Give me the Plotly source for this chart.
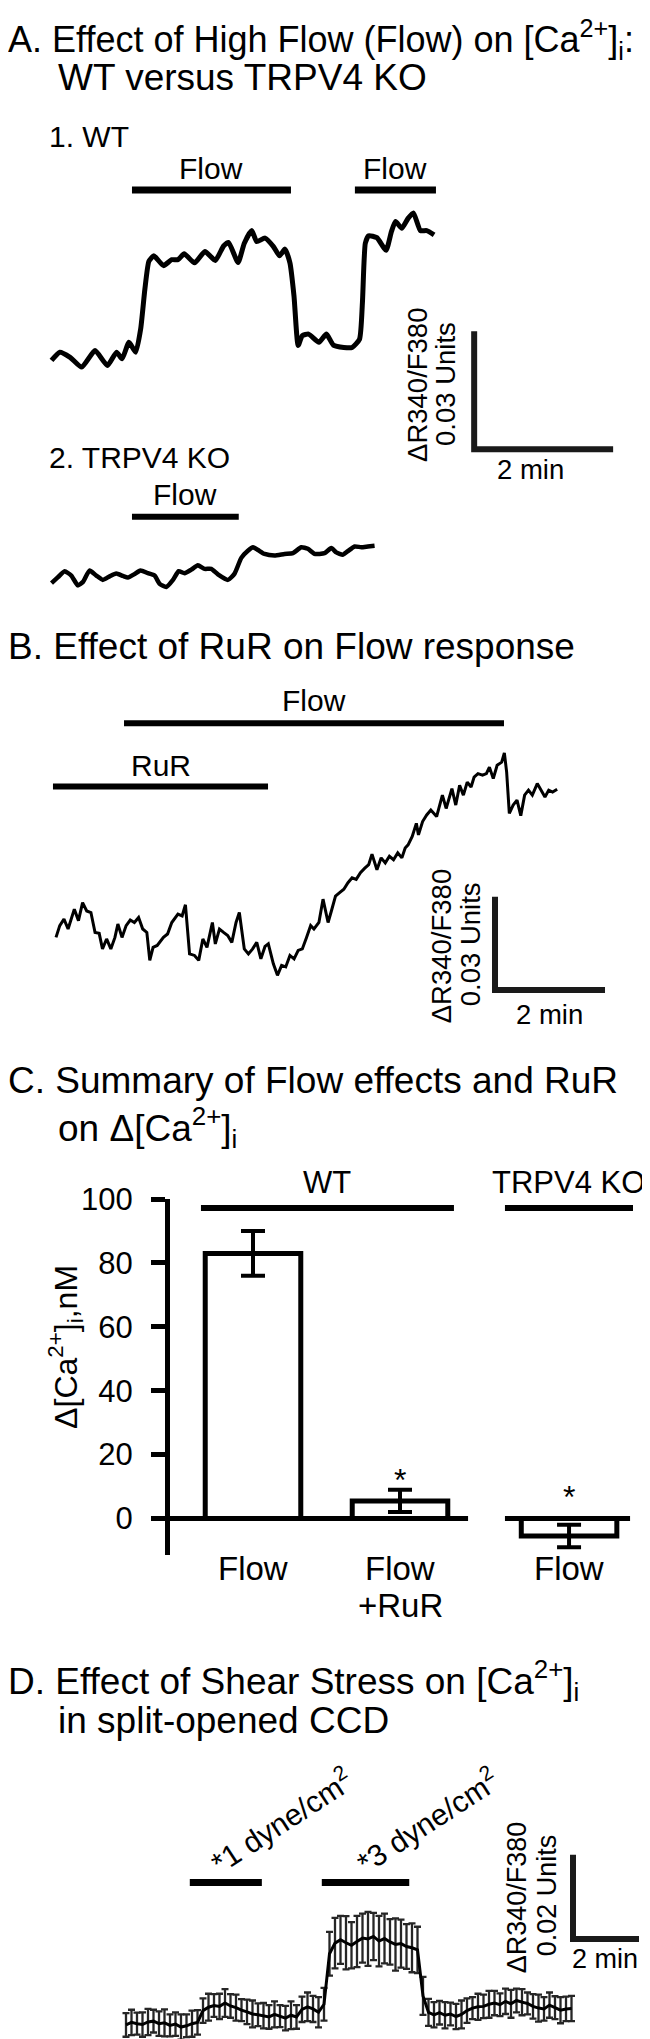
import plotly.graph_objects as go

W, H = 650, 2039
FONT = "Liberation Sans, Arial, Helvetica, sans-serif"
INK = "black"

# ---------------- data ----------------
# A. High flow, WT vs TRPV4 KO.  time in s, dR340/F380 in 1e-3 ratio units
A_WT_T = [0, 7.2, 16.1, 26.1, 37.6, 48.3, 56.2, 60.9, 66.9, 72.7, 77.0, 80.6, 84.1, 88.4,
          96.7, 103.8, 109.2, 114.6, 123.5, 132.5, 141.4, 148.6, 152.9, 161.1, 166.5, 172.9,
          177.2, 184.4, 191.5, 196.9, 201.6, 205.9, 209.4, 213.0, 216.6, 222.0, 230.9, 237.4,
          243.4, 252.4, 259.6, 266.0, 268.5, 271.0, 273.9, 281.0, 288.9, 293.6, 297.1, 302.5,
          307.9, 312.5, 318.6, 324.0, 330.4]
A_WT_DR = [1.7, 3.8, 2.5, 0.0, 4.2, 0.4, 3.8, 2.1, 6.3, 3.8, 9.7, 19.7, 26.9, 28.3,
           25.8, 27.3, 27.3, 28.8, 26.5, 29.4, 27.1, 30.8, 31.7, 26.6, 31.5, 34.7,
           31.9, 32.8, 30.7, 28.3, 30.0, 26.5, 18.1, 5.5, 8.0, 8.4, 6.3, 8.4,
           5.6, 5.0, 5.0, 7.1, 16.4, 31.5, 33.4, 32.9, 29.7, 34.5, 37.0, 35.3,
           37.8, 39.2, 34.7, 34.7, 33.6]
A_KO_T = [0, 5.6, 11.3, 17.1, 22.8, 27.2, 32.9, 38.7, 44.4, 50.2, 55.9, 61.7, 66.0, 71.2,
          76.9, 83.3, 89.0, 93.4, 99.1, 104.9, 109.8, 114.9, 120.7, 126.4, 132.2, 138.0,
          143.7, 152.4, 158.1, 163.9, 169.6, 174.0, 178.3, 184.0, 192.6, 201.3, 208.5,
          215.7, 221.4, 227.2, 235.8, 241.6, 245.9, 251.6, 255.9, 261.7, 267.5, 273.2, 279.0]
A_KO_DR = [1.0, 2.5, 4.0, 2.9, 0.4, 1.3, 4.2, 2.9, 1.8, 2.7, 3.4, 2.8, 2.4, 3.2,
           4.2, 3.5, 2.9, 0.8, 0.0, 1.8, 4.0, 3.5, 4.4, 5.5, 4.6, 4.6,
           3.2, 1.8, 3.4, 7.4, 9.2, 10.1, 9.4, 8.4, 8.0, 8.4, 8.6,
           10.1, 9.7, 8.4, 8.6, 9.9, 8.8, 8.2, 9.1, 10.3, 10.1, 10.3, 10.5]
A_WT_FLOW = [[69.5, 206.8], [262.0, 332.0]]
A_KO_FLOW = [[69.5, 161.7]]

# B. RuR on flow response
B_T = [0, 4.1, 8.7, 13.2, 20.0, 24.5, 29.0, 33.5, 38.1, 42.6,
       47.1, 50.7, 55.2, 59.8, 64.3, 67.5, 72.0, 76.5, 81.0, 85.5,
       90.1, 94.6, 99.1, 102.3, 105.9, 110.4, 117.2, 121.7, 126.3, 133.0,
       137.6, 141.2, 145.7, 151.1, 155.7, 160.2, 164.7, 170.6, 173.8, 178.3,
       182.8, 187.3, 191.8, 196.4, 200.0, 205.4, 209.9, 214.5, 219.0, 223.5,
       228.0, 231.6, 237.1, 241.6, 246.1, 250.6, 255.2, 259.7, 264.2, 268.7,
       273.3, 277.8, 281.4, 286.8, 291.3, 296.8, 300.4, 304.9, 309.4, 314.0,
       318.5, 323.0, 327.5, 332.1, 336.6, 341.1, 344.7, 350.1, 354.7, 359.2,
       363.7, 368.2, 372.8, 377.3, 380.9, 384.1, 388.6, 393.1, 395.4, 399.9,
       404.4, 408.9, 415.2, 421.5, 425.6, 431.9, 436.1, 440.3, 444.4, 448.6,
       452.8, 456.1, 460.3, 465.3, 469.5, 472.8, 477.0, 481.2, 486.2, 489.1,
       491.6, 494.5, 498.7, 502.9, 507.0, 511.2, 515.4, 519.6, 525.0, 529.2,
       533.4, 537.5, 541.7, 546.7]
B_DR = [12.2, 16.0, 18.1, 14.9, 21.3, 17.6, 23.4, 20.7, 20.2, 13.8,
        13.5, 8.5, 11.7, 8.5, 12.2, 16.5, 12.2, 16.0, 17.8, 17.0,
        18.6, 14.9, 13.8, 4.8, 9.0, 9.6, 12.2, 13.3, 17.0, 19.7,
        19.1, 22.7, 6.9, 6.4, 4.8, 11.7, 9.0, 17.0, 10.1, 14.9,
        13.8, 12.8, 10.6, 17.0, 20.2, 8.5, 6.9, 8.5, 10.6, 5.3,
        9.3, 10.1, 3.7, 0.0, 3.2, 2.7, 6.4, 5.3, 8.0, 8.5,
        12.2, 16.0, 14.9, 17.0, 24.5, 17.0, 20.7, 25.5, 26.6, 27.7,
        29.8, 31.4, 30.9, 33.0, 34.4, 35.6, 39.0, 34.0, 37.8, 36.2,
        38.3, 37.2, 39.4, 37.8, 41.0, 42.0, 44.7, 48.9, 45.2, 49.5,
        51.6, 53.2, 51.1, 58.0, 53.7, 60.1, 54.8, 61.2, 58.0, 62.2,
        60.6, 63.8, 64.9, 64.4, 64.9, 67.0, 63.3, 67.6, 68.6, 71.6,
        65.4, 52.1, 54.8, 56.4, 51.4, 58.0, 59.6, 58.0, 61.7, 59.6,
        57.4, 59.6, 59.0, 59.9]
B_FLOW = [74.2, 488.7]
B_RUR = [-3.3, 231.3]

# C. summary, d[Ca2+]i in nM
C_LABELS = ["Flow", "Flow<br>+RuR", "Flow"]
C_MEAN = [83, 5.5, -5.5]
C_SEM = [7, 3.5, 3.5]
C_STARS = ["", "*", "*"]
C_GROUPS = ["WT", "TRPV4 KO"]
C_TICKS = [0, 20, 40, 60, 80, 100]

# D. shear stress, split-opened CCD (mean +/- sem)
D_T = [0, 10, 20, 30, 40, 50, 60, 70, 80, 90, 100, 110, 120, 130, 140, 150, 160, 170,
       180, 190, 200, 210, 220, 230, 240, 250, 260, 270, 280, 290, 300, 310, 320, 330,
       340, 350, 360, 370, 380, 390, 400, 410, 420, 430, 440, 450, 460, 470, 480, 490,
       500, 510, 520, 530, 540, 550, 560, 570, 580, 590, 600, 610, 620, 630, 640, 650,
       660, 670, 680, 690, 700, 710, 720, 730, 740, 750, 760, 770, 780, 790, 800, 810]
D_DR = [0.6, 1.2, 0.9, 0.7, 1.3, 1.5, 0.9, 1.1, 0.5, 0.8,
        0.1, 0.4, 0.9, 1.2, 4.0, 4.8, 5.2, 5.0, 5.8, 5.1,
        4.7, 4.1, 3.7, 3.2, 3.0, 2.8, 2.5, 3.1, 2.7, 2.2,
        2.9, 2.5, 4.3, 4.9, 4.4, 3.6, 5.5, 17.5, 20.0, 20.8,
        20.1, 19.5, 20.4, 21.2, 21.0, 21.6, 20.5, 21.1, 20.3, 19.7,
        19.9, 19.2, 18.9, 18.4, 7.5, 3.6, 3.0, 3.5, 2.9, 3.2,
        2.6, 3.1, 4.0, 4.6, 4.9, 5.0, 5.5, 5.8, 5.4, 6.2,
        5.6, 6.4, 6.0, 5.7, 5.0, 4.6, 4.4, 5.3, 4.7, 4.1,
        4.4, 4.5]
D_SEM = [2.8, 3.0, 2.6, 2.9, 3.1, 2.7, 2.9, 3.2, 2.6, 2.8, 3.0, 2.7, 3.1, 2.9,
         2.9, 3.2, 2.7, 3.0, 3.3, 2.8, 3.1, 2.6, 2.9, 3.2, 2.7, 3.0, 2.8, 3.1, 2.6,
         2.9, 3.3, 2.8, 3.0, 3.4, 3.1, 3.6, 3.9,
         5.2, 6.0, 5.7, 6.3, 5.5, 6.1, 5.8, 6.4, 5.6, 6.0, 5.9, 5.4, 6.2, 5.7, 5.3, 5.8, 5.5,
         4.5, 3.2, 3.0, 2.8, 3.1, 2.7, 3.0, 3.3, 2.9, 2.6, 3.1, 2.8, 3.2, 2.9, 2.7, 3.0,
         3.3, 2.8, 3.1, 2.6, 2.9, 3.2, 2.8, 3.0, 2.7, 3.1, 2.9, 3.0]
D_SHEAR = [[116, 247], [356, 515]]
D_SHEAR_LABELS = ["*1 dyne/cm<sup>2</sup>", "*3 dyne/cm<sup>2</sup>"]

SCALE_TIME_S = 120
SCALE_A_DR = 30   # 0.03 units
SCALE_B_DR = 30
SCALE_D_DR = 20   # 0.02 units

# ---------------- page geometry (px) ----------------
A_X0, A_XS = 43.5, 1.158                 # px origin, px per s
A1_Y0, A2_Y0, A_YS = 345.0, 566.7, 3.967  # px origin, px per 1e-3 unit
B_X0, B_XS = 48.0, 0.9167
B_Y0, B_YS = 958.3, 3.133
C_X = [0, 1, 2.15]
C_X0, C_XS = 245.0, 147.0
C_Y0, C_YS = 1506.0, 3.22
D_X0, D_XS = 118.0, 0.55
D_Y0, D_YS = 2019.3, 4.25


def xr(x0, xs, left=0, right=W):
    return [(left - x0) / xs, (right - x0) / xs]


def yr(y0, ys, top, bottom):
    return [(y0 - bottom) / ys, (y0 - top) / ys]


def yd(top, bottom):
    return [1 - bottom / H, 1 - top / H]


def py(y):
    return 1 - y / H


def htext(text, x, base, size, xanchor="center", xref="paper"):
    # x in px (or data units if xref is an axis), base = text baseline in px
    return dict(text=text, x=x / W if xref == "paper" else x, y=py(base - 0.35 * size),
                xref=xref, yref="paper", showarrow=False, xanchor=xanchor, yanchor="middle",
                font=dict(size=size, family=FONT, color=INK))


def rtext(text, xc, yc, size, angle=-90):
    return dict(text=text, x=xc / W, y=py(yc), xref="paper", yref="paper", showarrow=False,
                xanchor="center", yanchor="middle", textangle=angle,
                font=dict(size=size, family=FONT, color=INK))


def hbar(x0, x1, ypx, xref, width):
    return dict(type="line", xref=xref, yref="paper", x0=x0, x1=x1, y0=py(ypx), y1=py(ypx),
                line=dict(color=INK, width=width))


def scale_bar(t0, v0, dv, xa, ya):
    return go.Scatter(x=[t0, t0, t0 + SCALE_TIME_S], y=[v0 + dv, v0, v0], mode="lines",
                      line=dict(color="#1a1a1a", width=6), xaxis=xa, yaxis=ya,
                      hoverinfo="skip")


fig = go.Figure()

# A traces
fig.add_trace(go.Scatter(x=A_WT_T, y=A_WT_DR, mode="lines", xaxis="x", yaxis="y",
                         line=dict(color=INK, width=5, shape="spline", smoothing=0.5)))
fig.add_trace(go.Scatter(x=A_KO_T, y=A_KO_DR, mode="lines", xaxis="x", yaxis="y2",
                         line=dict(color=INK, width=4.5, shape="spline", smoothing=0.5)))
fig.add_trace(scale_bar(365, -20.9, SCALE_A_DR, "x", "y"))

# B trace
fig.add_trace(go.Scatter(x=B_T, y=B_DR, mode="lines", xaxis="x2", yaxis="y3",
                         line=dict(color=INK, width=3)))
fig.add_trace(scale_bar(478.9, -4.7, SCALE_B_DR, "x2", "y3"))

# C bars
fig.add_trace(go.Bar(x=C_X, y=C_MEAN, width=0.65, xaxis="x3", yaxis="y4",
                     marker=dict(color="white", line=dict(color=INK, width=5)),
                     error_y=dict(type="data", array=C_SEM, thickness=4, width=12, color=INK)))

# D trace, error bars first so the mean line sits on top
fig.add_trace(go.Scatter(x=D_T, y=D_DR, mode="lines", xaxis="x4", yaxis="y5",
                         line=dict(color=INK, width=3),
                         error_y=dict(type="data", array=D_SEM, thickness=2.3, width=3.5,
                                      color="#262626")))
fig.add_trace(scale_bar(812.7, 21.0, SCALE_D_DR, "x4", "y5"))

shapes = []
for s, e in A_WT_FLOW:
    shapes.append(hbar(s, e, 166.5, "x", 7))
for s, e in A_KO_FLOW:
    shapes.append(hbar(s, e, 496, "x", 6))
shapes.append(hbar(B_FLOW[0], B_FLOW[1], 704, "x2", 6))
shapes.append(hbar(B_RUR[0], B_RUR[1], 768, "x2", 6))
shapes.append(hbar(-0.354, 1.367, 1193, "x3", 6))
shapes.append(hbar(1.714, 2.585, 1193, "x3", 6))
for a, b in [[-0.565, 1.463], [1.714, 2.565]]:
    shapes.append(dict(type="line", xref="x3", yref="y4", x0=a, x1=b, y0=0, y1=0,
                       line=dict(color=INK, width=5)))
for s, e in D_SHEAR:
    shapes.append(hbar(s, e, 1873, "x4", 7))

ann = [
    htext("A. Effect of High Flow (Flow) on [Ca<sup>2+</sup>]<sub>i</sub>:", -2, 27, 36, "left"),
    htext("WT versus TRPV4 KO", 48, 66, 37, "left"),
    htext("1. WT", 39, 123, 30, "left"),
    htext("2. TRPV4 KO", 39, 447, 30, "left"),
    rtext("\u0394R340/F380", 410, 363, 27.5),
    rtext("0.03 Units", 438, 362, 27.5),
    htext("2 min", 522, 458, 27.5),
    htext("B. Effect of RuR on Flow response", -2, 640, 37, "left"),
    htext("Flow", sum(B_FLOW) / 2, 692, 30, xref="x2"),
    htext("RuR", sum(B_RUR) / 2, 757, 30, xref="x2"),
    rtext("\u0394R340/F380", 433, 929, 27.5),
    rtext("0.03 Units", 462, 927, 27.5),
    htext("2 min", 541, 1007, 27.5),
    htext("C. Summary of Flow effects and RuR", -2, 1077, 37, "left"),
    htext("on \u0394[Ca<sup>2+</sup>]<sub>i</sub>", 48, 1125, 37, "left"),
    htext(C_GROUPS[0], (-0.354 + 1.367) / 2, 1178, 31, xref="x3"),
    htext(C_GROUPS[1], (1.714 + 2.585) / 2, 1178, 31, xref="x3"),
    rtext("\u0394[Ca<sup>2+</sup>]<sub>i</sub>,nM", 58, 1333, 32),
    htext("D. Effect of Shear Stress on [Ca<sup>2+</sup>]<sub>i</sub>", -2, 1682, 37, "left"),
    htext("in split-opened CCD", 48, 1723, 37, "left"),
    rtext("\u0394R340/F380", 509, 1888, 27),
    rtext("0.02 Units", 539, 1886, 27),
    htext("2 min", 597, 1960, 27),
]
for s, e in A_WT_FLOW:
    ann.append(htext("Flow", (s + e) / 2, 155, 30, xref="x"))
for s, e in A_KO_FLOW:
    ann.append(htext("Flow", (s + e) / 2, 484, 30, xref="x"))
for xc, lab in zip(C_X, C_LABELS):
    for k, line in enumerate(lab.split("<br>")):
        ann.append(htext(line, xc, 1568 + 37 * k, 33, xref="x3"))
for xc, star, ypx in zip(C_X, C_STARS, [0, 1467, 1484]):
    if star:
        ann.append(dict(text=star, x=xc, y=py(ypx), xref="x3", yref="paper", showarrow=False,
                        xanchor="center", yanchor="middle",
                        font=dict(size=32, family=FONT, color=INK)))
for lab, xc in zip(D_SHEAR_LABELS, [273, 419]):
    ann.append(rtext(lab, xc, 1810, 30, angle=-33))

hidden = dict(visible=False, showgrid=False, zeroline=False)
fig.update_layout(
    width=W, height=H, margin=dict(l=0, r=0, t=0, b=0),
    paper_bgcolor="white", plot_bgcolor="rgba(0,0,0,0)", showlegend=False,
    font=dict(family=FONT, size=30, color=INK),
    xaxis=dict(domain=[0, 1], range=xr(A_X0, A_XS), anchor="y", **hidden),
    yaxis=dict(domain=yd(90, 470), range=yr(A1_Y0, A_YS, 90, 470), anchor="x", **hidden),
    yaxis2=dict(domain=yd(470, 590), range=yr(A2_Y0, A_YS, 470, 590), anchor="x", **hidden),
    xaxis2=dict(domain=[0, 1], range=xr(B_X0, B_XS), anchor="y3", **hidden),
    yaxis3=dict(domain=yd(690, 1030), range=yr(B_Y0, B_YS, 690, 1030), anchor="x2", **hidden),
    xaxis3=dict(domain=[162 / W, 1], range=xr(C_X0, C_XS, 162, W), anchor="y4", **hidden),
    yaxis4=dict(domain=yd(1184, 1543), range=yr(C_Y0, C_YS, 1184, 1543), anchor="x3",
                showline=True, linewidth=5, linecolor=INK, ticks="outside", ticklen=14,
                tickwidth=5, tickcolor=INK, tickvals=C_TICKS, tickfont=dict(size=31),
                showgrid=False, zeroline=False, ticklabelstandoff=12),
    xaxis4=dict(domain=[0, 1], range=xr(D_X0, D_XS), anchor="y5", **hidden),
    yaxis5=dict(domain=yd(1830, 2039), range=yr(D_Y0, D_YS, 1830, 2039), anchor="x4", **hidden),
    shapes=shapes, annotations=ann,
)

fig.write_html("out.html")
